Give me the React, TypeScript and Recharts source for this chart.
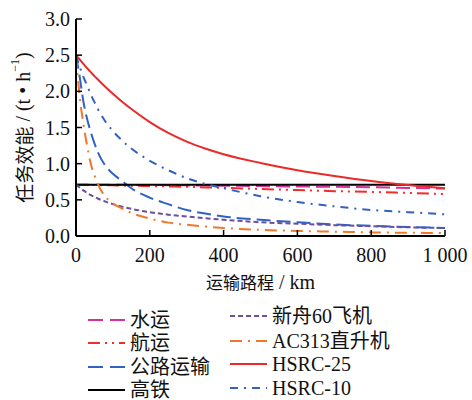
import { LineChart, Line, XAxis, YAxis, Label } from 'recharts';

const distances = [0, 10, 20, 30, 40, 50, 60, 80, 100, 125, 150, 200, 250, 300, 350, 400, 500, 600, 700, 800, 900, 1000];

const waterway = [0.71, 0.71, 0.71, 0.71, 0.71, 0.71, 0.71, 0.71, 0.71, 0.708, 0.706, 0.705, 0.702, 0.7, 0.697, 0.695, 0.69, 0.685, 0.68, 0.675, 0.665, 0.655];
const airway = [0.71, 0.709, 0.708, 0.707, 0.706, 0.705, 0.704, 0.702, 0.7, 0.697, 0.695, 0.69, 0.685, 0.68, 0.672, 0.665, 0.65, 0.635, 0.62, 0.61, 0.595, 0.58];
const road = [2.5, 2.2, 1.86, 1.62, 1.44, 1.28, 1.15, 0.97, 0.86, 0.76, 0.66, 0.53, 0.44, 0.36, 0.31, 0.27, 0.225, 0.19, 0.16, 0.14, 0.125, 0.11];
const railway = [0.71, 0.71, 0.71, 0.71, 0.71, 0.71, 0.71, 0.71, 0.71, 0.71, 0.71, 0.71, 0.71, 0.71, 0.71, 0.71, 0.71, 0.71, 0.71, 0.71, 0.71, 0.71];
const ma60 = [0.71, 0.67, 0.63, 0.595, 0.565, 0.54, 0.515, 0.475, 0.44, 0.405, 0.375, 0.33, 0.295, 0.27, 0.245, 0.225, 0.19, 0.17, 0.15, 0.135, 0.12, 0.11];
const ac313 = [2.5, 1.93, 1.55, 1.25, 1.0, 0.84, 0.71, 0.54, 0.45, 0.38, 0.32, 0.24, 0.185, 0.155, 0.13, 0.11, 0.085, 0.07, 0.06, 0.05, 0.045, 0.04];
const hsrc25 = [2.5, 2.44, 2.38, 2.32, 2.265, 2.21, 2.16, 2.06, 1.965, 1.855, 1.755, 1.575, 1.425, 1.305, 1.21, 1.13, 1.01, 0.91, 0.83, 0.76, 0.705, 0.66];
const hsrc10 = [2.5, 2.34, 2.2, 2.08, 1.96, 1.85, 1.75, 1.58, 1.45, 1.32, 1.21, 1.04, 0.91, 0.8, 0.72, 0.66, 0.55, 0.47, 0.41, 0.36, 0.33, 0.3];

const xTicks = [0, 200, 400, 600, 800, 1000];
const xTickLabels = ['0', '200', '400', '600', '800', '1 000'];
const yTicks = [0, 0.5, 1, 1.5, 2, 2.5, 3];

const series = [
  { key: 'water', name: '水运', values: waterway, color: '#d6319b', dash: '14 6' },
  { key: 'air', name: '航运', values: airway, color: '#ee2d2d', dash: '12 5 2 5 2 5' },
  { key: 'road', name: '公路运输', values: road, color: '#2f62c4', dash: '14 6' },
  { key: 'rail', name: '高铁', values: railway, color: '#000000', dash: undefined },
  { key: 'ma60', name: '新舟60飞机', values: ma60, color: '#6b4f9e', dash: '5 3' },
  { key: 'ac313', name: 'AC313直升机', values: ac313, color: '#f0782a', dash: '12 6 2 6' },
  { key: 'hsrc25', name: 'HSRC-25', values: hsrc25, color: '#ea2a2a', dash: undefined },
  { key: 'hsrc10', name: 'HSRC-10', values: hsrc10, color: '#2f62c4', dash: '8 6 2 6' },
];

const data = distances.map((d, i) => {
  const row: Record<string, number> = { distance: d };
  series.forEach((s) => { row[s.key] = s.values[i]; });
  return row;
});

const FONT = "'Liberation Serif', 'Times New Roman', 'Noto Sans CJK SC', serif";

const XTick = (props: any) => {
  const { x, y, payload, index } = props;
  return (
    <g>
      <line x1={x} x2={x} y1={y} y2={y - 6} stroke="#000" strokeWidth={1.5} />
      <text x={x} y={y + 26} textAnchor="middle" fontSize={20} fontFamily={FONT} fill="#111">
        {xTickLabels[index] ?? payload.value}
      </text>
    </g>
  );
};

const YTick = (props: any) => {
  const { x, y, payload } = props;
  return (
    <g>
      <line x1={x} x2={x + 6} y1={y} y2={y} stroke="#000" strokeWidth={1.5} />
      <text x={x - 6} y={y + 7} textAnchor="end" fontSize={20} fontFamily={FONT} fill="#111">
        {payload.value.toFixed(1)}
      </text>
    </g>
  );
};

const XTitle = (props: any) => {
  const vb = props.viewBox;
  return (
    <text x={vb.x + vb.width / 2} y={vb.y + 53} textAnchor="middle" fontFamily={FONT} fill="#111">
      <tspan fontSize={17} fontFamily="'Noto Sans CJK SC', sans-serif">运输路程</tspan>
      <tspan fontSize={20}> / km</tspan>
    </text>
  );
};

const YTitle = (props: any) => {
  const vb = props.viewBox;
  const cx = 23;
  const cy = vb.y + vb.height / 2;
  return (
    <text x={cx} y={cy} textAnchor="middle" dominantBaseline="central" transform={`rotate(-90 ${cx} ${cy})`} fontFamily={FONT} fill="#111">
      <tspan fontSize={19} fontFamily="'Noto Sans CJK SC', sans-serif">任务效能</tspan>
      <tspan fontSize={20}> / (t • h</tspan>
      <tspan fontSize={12} dy={-8}>−1</tspan>
      <tspan fontSize={20} dy={8}>)</tspan>
    </text>
  );
};

const leftCol = series.slice(0, 4);
const rightCol = series.slice(4);

function LegendBox() {
  const rowsLeft = [320, 343, 367, 390];
  const rowsRight = [316, 341, 364, 388];
  return (
    <svg width={472} height={100} style={{ position: 'absolute', left: 0, top: 300 }}>
      {leftCol.map((s, i) => (
        <g key={s.key}>
          <line x1={88} x2={125} y1={rowsLeft[i] - 300} y2={rowsLeft[i] - 300} stroke={s.color} strokeWidth={2} strokeDasharray={s.dash === '14 6' ? '15 7' : s.dash} />
          <text x={130} y={rowsLeft[i] - 300 + 7} fontSize={20} fontFamily={FONT} fill="#111">{s.name}</text>
        </g>
      ))}
      {rightCol.map((s, i) => (
        <g key={s.key}>
          <line x1={230} x2={267} y1={rowsRight[i] - 300} y2={rowsRight[i] - 300} stroke={s.color} strokeWidth={2} strokeDasharray={s.dash} />
          <text x={272} y={rowsRight[i] - 300 + 7} fontSize={20} fontFamily={FONT} fill="#111">{s.name}</text>
        </g>
      ))}
    </svg>
  );
}

export default function App() {
  return (
    <div style={{ position: 'absolute', left: 0, top: 0, width: 472, height: 400, background: '#fff' }}>
      <LineChart width={472} height={300} data={data} margin={{ top: 19, right: 27, left: 0, bottom: 0 }}>
        <XAxis
          dataKey="distance"
          type="number"
          domain={[0, 1000]}
          ticks={xTicks}
          tick={<XTick />}
          tickSize={0}
          tickMargin={0}
          tickLine={false}
          height={64}
          axisLine={{ stroke: '#000', strokeWidth: 2 }}
          interval={0}
        >
          <Label content={<XTitle />} />
        </XAxis>
        <YAxis
          type="number"
          domain={[0, 3]}
          ticks={yTicks}
          tick={<YTick />}
          tickSize={0}
          tickMargin={0}
          tickLine={false}
          width={76}
          axisLine={{ stroke: '#000', strokeWidth: 2 }}
          interval={0}
        >
          <Label content={<YTitle />} />
        </YAxis>
        {series.map((s) => (
          <Line
            key={s.key}
            dataKey={s.key}
            name={s.name}
            type="monotone"
            stroke={s.color}
            strokeWidth={2}
            strokeDasharray={s.dash}
            dot={false}
            isAnimationActive={false}
          />
        ))}
      </LineChart>
      <LegendBox />
    </div>
  );
}
